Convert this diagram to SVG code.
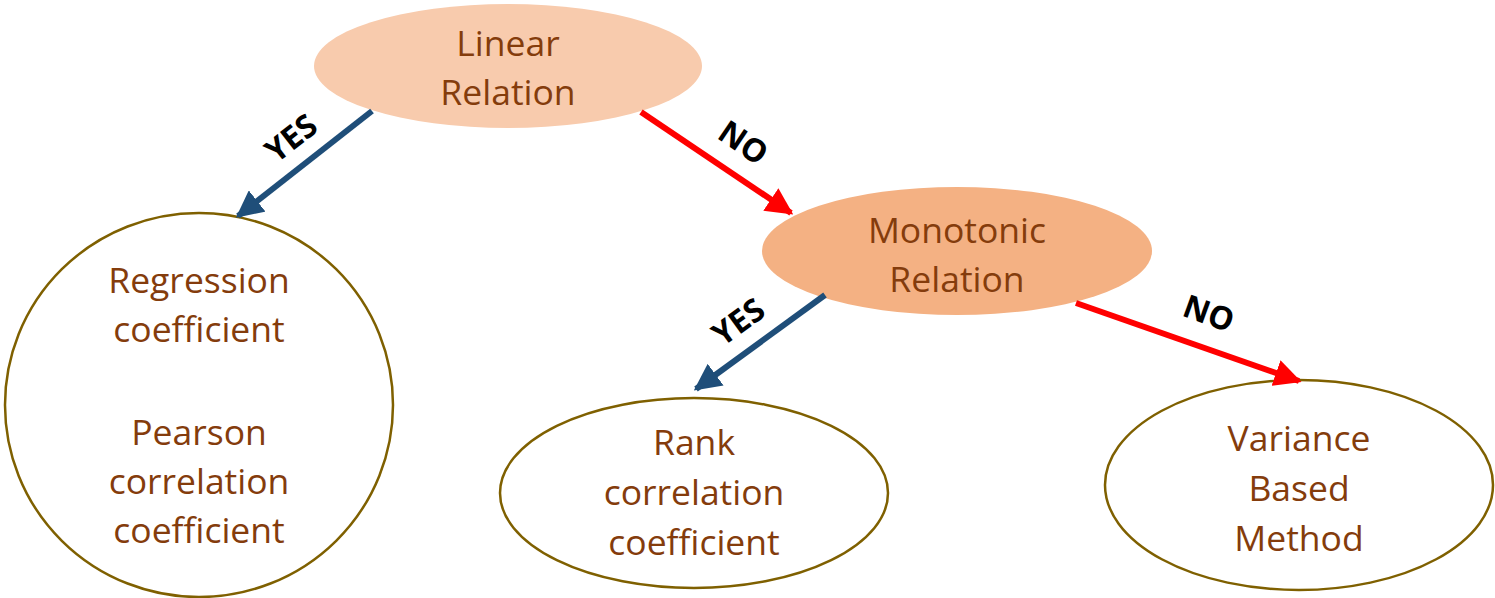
<svg xmlns="http://www.w3.org/2000/svg" width="1495" height="598" viewBox="0 0 1495 598">
  <style>
    .lbl { font-family: "Open Sans", "Liberation Sans", sans-serif; font-size: 35.5px; fill: #843C0C; text-anchor: middle; }
    .leaf { fill: #FFFFFF; stroke: #7F6000; stroke-width: 2.5; }
    .edge { font-family: "Open Sans", "Liberation Sans", sans-serif; font-size: 32px; font-weight: bold; fill: #000000; text-anchor: middle; }
    .yes { stroke: #1F4E79; stroke-width: 6; fill: none; }
    .no { stroke: #FF0000; stroke-width: 6; fill: none; }
  </style>
  <defs>
    <marker id="headBlue" viewBox="0 0 10 10" refX="9" refY="5" markerWidth="4.5" markerHeight="4.5" orient="auto" markerUnits="strokeWidth">
      <path d="M0,0 L10,5 L0,10 z" fill="#1F4E79"/>
    </marker>
    <marker id="headRed" viewBox="0 0 10 10" refX="9" refY="5" markerWidth="4.5" markerHeight="4.5" orient="auto" markerUnits="strokeWidth">
      <path d="M0,0 L10,5 L0,10 z" fill="#FF0000"/>
    </marker>
  </defs>
  <rect width="1495" height="598" fill="#FFFFFF"/>

  <g id="linear">
    <ellipse cx="508" cy="66" rx="194" ry="62" fill="#F8CBAD"/>
    <text class="lbl" x="508" y="56">Linear</text>
    <text class="lbl" x="508" y="105">Relation</text>
  </g>

  <g id="monotonic">
    <ellipse cx="957" cy="251" rx="195" ry="64" fill="#F4B183"/>
    <text class="lbl" x="957" y="243">Monotonic</text>
    <text class="lbl" x="957" y="292">Relation</text>
  </g>

  <g id="pearson">
    <ellipse class="leaf" cx="199" cy="405" rx="194" ry="192"/>
    <text class="lbl" x="199" y="293">Regression</text>
    <text class="lbl" x="199" y="342">coefficient</text>
    <text class="lbl" x="199" y="445">Pearson</text>
    <text class="lbl" x="199" y="494">correlation</text>
    <text class="lbl" x="199" y="543">coefficient</text>
  </g>

  <g id="rank">
    <ellipse class="leaf" cx="694" cy="493" rx="194" ry="95"/>
    <text class="lbl" x="694" y="455">Rank</text>
    <text class="lbl" x="694" y="505">correlation</text>
    <text class="lbl" x="694" y="555">coefficient</text>
  </g>

  <g id="variance">
    <ellipse class="leaf" cx="1299" cy="485" rx="194" ry="105"/>
    <text class="lbl" x="1299" y="451">Variance</text>
    <text class="lbl" x="1299" y="501">Based</text>
    <text class="lbl" x="1299" y="551">Method</text>
  </g>

  <g id="connectors">
    <line class="yes" x1="372" y1="111" x2="238" y2="216" marker-end="url(#headBlue)"/>
    <line class="no" x1="641" y1="112" x2="791" y2="213" marker-end="url(#headRed)"/>
    <line class="yes" x1="825" y1="295" x2="696" y2="389" marker-end="url(#headBlue)"/>
    <line class="no" x1="1076" y1="303" x2="1299" y2="381" marker-end="url(#headRed)"/>
    <text class="edge" transform="translate(298,147) rotate(-38)">YES</text>
    <text class="edge" transform="translate(737,152) rotate(34)">NO</text>
    <text class="edge" transform="translate(745,331) rotate(-36)">YES</text>
    <text class="edge" transform="translate(1205,324) rotate(20)">NO</text>
  </g>
</svg>
